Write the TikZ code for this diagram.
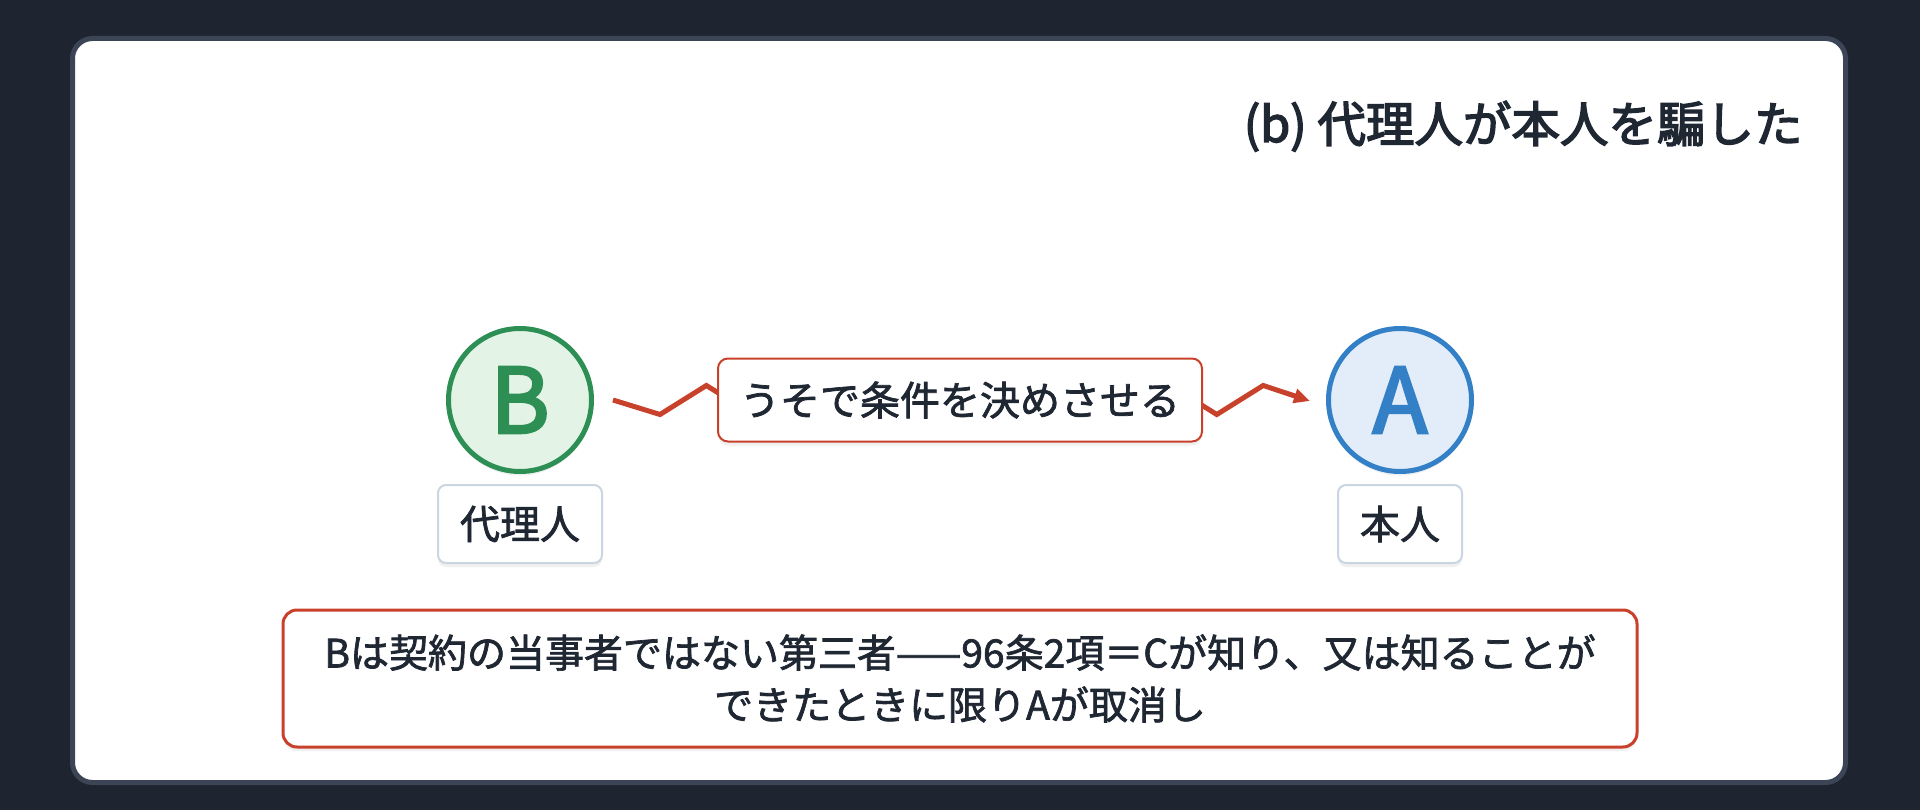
\documentclass[tikz,border=0pt]{standalone}
\usepackage{fontspec}
\setmainfont{Noto Sans CJK JP}
\newfontfamily\jpmid[FakeBold=3]{Noto Sans CJK JP}
\newfontfamily\jplabel[FakeBold=1.8]{Noto Sans CJK JP}
\usetikzlibrary{arrows.meta}
\usetikzlibrary{calc}
\usetikzlibrary{shadows}

\definecolor{bgdark}{HTML}{1E2430}
\definecolor{panelrim}{HTML}{3B4556}
\definecolor{inkdark}{HTML}{1F2733}
\definecolor{agentgreen}{HTML}{2E8F55}
\definecolor{agentfill}{HTML}{E3F4E6}
\definecolor{principalblue}{HTML}{3380C6}
\definecolor{principalfill}{HTML}{E3EDF9}
\definecolor{fraudred}{HTML}{C8412B}
\definecolor{tagrim}{HTML}{CBD5E1}

\tikzset{
	softshadow/.style={ drop shadow={ fill=black, opacity=0.06, shadow xshift=0pt, shadow yshift=-4pt } },
	partycircle/.style={ circle, line width=5pt, minimum size=143pt, inner sep=0pt, softshadow, font=\jpmid\fontsize{90}{90}\selectfont },
	roletag/.style={ draw=tagrim, fill=white, line width=2pt, rounded corners=8pt, inner xsep=22pt, minimum height=78pt, softshadow, text=inkdark, font=\jplabel\fontsize{40}{48}\selectfont },
	liebox/.style={ draw=fraudred, fill=white, line width=2pt, rounded corners=10pt, inner xsep=22pt, minimum height=83pt, softshadow, text=inkdark, font=\jplabel\fontsize{40}{48}\selectfont },
	notebox/.style={ draw=fraudred, fill=white, line width=3pt, rounded corners=14pt, minimum width=1354pt, minimum height=137pt, softshadow, align=center, text=inkdark, font=\jplabel\fontsize{39}{52}\selectfont },
	zz/.style={ draw=fraudred, line width=5pt, -{Triangle[ length=16pt, width=14pt ]} }
}

\begin{document}
\begin{tikzpicture}[ x=1pt, y=-1pt ]

	\def\zzstep{46.4}
	\def\zzamp{14.5}
	\def\nzz{13}

	\fill[ bgdark ] (0,0) rectangle (1920,810);
	\draw[ panelrim, fill=white, line width=5pt, rounded corners=20pt ] (72.5,38.5) rectangle (1845.5,782.5);

	\node[ anchor=base east, text=inkdark, font=\jpmid\fontsize{48.5}{56}\selectfont ] (title) at (1806,142) {(b) 代理人が本人を騙した};

	\node[ partycircle, draw=agentgreen, fill=agentfill, text=agentgreen ] (B) at (520,400) {B};
	\node[ partycircle, draw=principalblue, fill=principalfill, text=principalblue ] (A) at (1400,400) {A};

	\node[ roletag ] (agent) at (520,524) {代理人};
	\node[ roletag ] (principal) at (1400,524) {本人};

	\draw[ zz ] ($(B.east)+(19,0)$) foreach \k in {0, ..., \nzz} { -- ($(B.east)+(66+\k*\zzstep, {\zzamp*(1-2*mod(\k,2))})$) } -- ($(A.west)+(-16,1)$);

	\node[ liebox ] (lie) at (960,400) {うそで条件を決めさせる};

	\node[ notebox ] (note) at (960,678.5) {Bは契約の当事者ではない第三者——96条2項＝Cが知り、又は知ることが\\できたときに限りAが取消し};

\end{tikzpicture}
\end{document}
